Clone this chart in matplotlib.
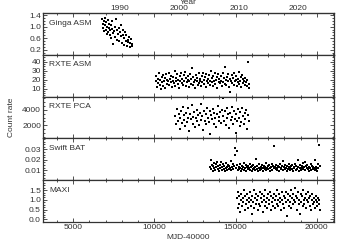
import matplotlib
matplotlib.use("Agg")
import matplotlib.pyplot as plt
from matplotlib.ticker import AutoMinorLocator, FixedLocator

plt.rcParams['font.family'] = ['Liberation Sans', 'DejaVu Sans']

# Ginga ASM
ginga_t = [6800, 6830, 6860, 6890, 6920, 6950, 6980, 7010, 7040, 7070,
           7100, 7130, 7160, 7190, 7220, 7250, 7280, 7310, 7340, 7370,
           7400, 7440, 7480, 7520, 7560, 7600, 7640, 7680, 7720, 7760,
           7800, 7840, 7880, 7920, 7960, 8000, 8040, 8080, 8120, 8160,
           8200, 8240, 8280, 8320, 8360, 8400, 8440, 8480, 8520, 8560,
           8600, 8640]
ginga_r = [1.25, 1.10, 0.95, 1.20, 0.85, 1.30, 1.05, 0.90, 1.15, 0.75,
           1.00, 1.22, 0.80, 0.95, 1.10, 0.70, 0.88, 1.05, 0.60, 0.92,
           1.18, 0.78, 0.40, 0.85, 1.00, 0.65, 1.25, 0.90, 0.55, 0.75,
           0.95, 0.50, 0.82, 0.68, 1.05, 0.45, 0.72, 0.90, 0.38, 0.60,
           0.80, 0.50, 0.70, 0.35, 0.55, 0.48, 0.65, 0.42, 0.30, 0.58,
           0.40, 0.33]

# RXTE ASM
asm_t = [10080, 10120, 10160, 10200, 10240, 10280, 10320, 10360, 10400, 10440,
         10480, 10520, 10560, 10600, 10640, 10680, 10720, 10760, 10800, 10840,
         10880, 10920, 10960, 11000, 11040, 11080, 11120, 11160, 11200, 11240,
         11280, 11320, 11360, 11400, 11440, 11480, 11520, 11560, 11600, 11640,
         11680, 11720, 11760, 11800, 11840, 11880, 11920, 11960, 12000, 12040,
         12080, 12120, 12160, 12200, 12240, 12280, 12320, 12360, 12400, 12440,
         12480, 12520, 12560, 12600, 12640, 12680, 12720, 12760, 12800, 12840,
         12880, 12920, 12960, 13000, 13040, 13080, 13120, 13160, 13200, 13240,
         13280, 13320, 13360, 13400, 13440, 13480, 13520, 13560, 13600, 13640,
         13680, 13720, 13760, 13800, 13840, 13880, 13920, 13960, 14000, 14040,
         14080, 14120, 14160, 14200, 14240, 14280, 14320, 14360, 14400, 14440,
         14480, 14520, 14560, 14600, 14640, 14680, 14720, 14760, 14800, 14840,
         14880, 14920, 14960, 15000, 15040, 15080, 15120, 15160, 15200, 15240,
         15280, 15320, 15360, 15400, 15440, 15480, 15520, 15560, 15600, 15640,
         15680, 15720, 15760, 15800, 15840]
asm_r = [18, 24, 12, 21, 16, 27, 14, 20, 9, 23,
         17, 25, 13, 19, 22, 11, 26, 15, 20, 18,
         28, 14, 21, 17, 24, 12, 19, 23, 16, 30,
         13, 22, 18, 26, 15, 20, 11, 24, 19, 27,
         16, 21, 14, 25, 18, 29, 13, 22, 17, 20,
         24, 12, 19, 26, 15, 21, 33, 14, 23, 17,
         20, 11, 25, 18, 22, 14, 27, 16, 21, 19,
         13, 24, 17, 28, 15, 20, 23, 12, 26, 18,
         21, 16, 25, 14, 19, 30, 17, 22, 13, 24,
         18, 27, 15, 20, 23, 11, 26, 17, 21, 16,
         24, 19, 13, 28, 17, 22, 15, 34, 20, 14,
         23, 18, 26, 12, 21, 6, 19, 25, 16, 22,
         14, 27, 18, 20, 24, 13, 21, 17, 29, 15,
         19, 23, 12, 25, 16, 21, 18, 14, 22, 17,
         13, 20, 40, 15, 11]

# RXTE PCA
pca_t = [11300, 11350, 11400, 11450, 11500, 11550, 11600, 11650, 11700, 11750,
         11800, 11850, 11900, 11950, 12000, 12050, 12100, 12150, 12200, 12250,
         12300, 12350, 12400, 12450, 12500, 12550, 12600, 12650, 12700, 12750,
         12800, 12850, 12900, 12950, 13000, 13050, 13100, 13150, 13200, 13250,
         13300, 13350, 13400, 13450, 13500, 13550, 13600, 13650, 13700, 13750,
         13800, 13850, 13900, 13950, 14000, 14050, 14100, 14150, 14200, 14250,
         14300, 14350, 14400, 14450, 14500, 14550, 14600, 14650, 14700, 14750,
         14800, 14850, 14900, 14950, 15000, 15050, 15100, 15150, 15200, 15250,
         15300, 15350, 15400, 15450, 15500, 15550, 15600, 15650, 15700, 15750,
         15800]
pca_r = [3200, 2100, 4100, 2600, 3500, 1500, 2900, 3800, 2300, 4400,
         2700, 3300, 1900, 3600, 2400, 4200, 3000, 1200, 3400, 2800,
         4600, 2200, 3100, 3700, 1700, 2900, 4000, 2500, 3300, 2000,
         3600, 4800, 2700, 3200, 1400, 3900, 2600, 3500, 2100, 4300,
         3000, 2400, 3800, 900, 3300, 2800, 4100, 2200, 3600, 2900,
         1800, 3400, 4500, 2600, 3100, 3700, 2300, 4000, 5600, 3200,
         2500, 3800, 2000, 4200, 2900, 3400, 1600, 3600, 2700, 4400,
         3100, 2200, 3900, 2800, 1000, 3500, 2600, 4100, 3000, 1900,
         3700, 2400, 4300, 3200, 2100, 3600, 2800, 4000, 1500, 3300,
         2600]

# Swift BAT
bat_t = [13420, 13460, 13500, 13540, 13580, 13620, 13660, 13700, 13740, 13780,
         13820, 13860, 13900, 13940, 13980, 14020, 14060, 14100, 14140, 14180,
         14220, 14260, 14300, 14340, 14380, 14420, 14460, 14500, 14540, 14580,
         14620, 14660, 14700, 14740, 14780, 14820, 14860, 14900, 14940, 14980,
         15020, 15060, 15100, 15140, 15180, 15220, 15260, 15300, 15340, 15380,
         15420, 15460, 15500, 15540, 15580, 15620, 15660, 15700, 15740, 15780,
         15820, 15860, 15900, 15940, 15980, 16020, 16060, 16100, 16140, 16180,
         16220, 16260, 16300, 16340, 16380, 16420, 16460, 16500, 16540, 16580,
         16620, 16660, 16700, 16740, 16780, 16820, 16860, 16900, 16940, 16980,
         17020, 17060, 17100, 17140, 17180, 17220, 17260, 17300, 17340, 17380,
         17420, 17460, 17500, 17540, 17580, 17620, 17660, 17700, 17740, 17780,
         17820, 17860, 17900, 17940, 17980, 18020, 18060, 18100, 18140, 18180,
         18220, 18260, 18300, 18340, 18380, 18420, 18460, 18500, 18540, 18580,
         18620, 18660, 18700, 18740, 18780, 18820, 18860, 18900, 18940, 18980,
         19020, 19060, 19100, 19140, 19180, 19220, 19260, 19300, 19340, 19380,
         19420, 19460, 19500, 19540, 19580, 19620, 19660, 19700, 19740, 19780,
         19820, 19860, 19900, 19940, 19980, 20020, 20060, 20100, 20140, 20180]
bat_r = [0.013, 0.020, 0.011, 0.015, 0.009, 0.014, 0.017, 0.012, 0.010, 0.016,
         0.013, 0.018, 0.011, 0.014, 0.009, 0.015, 0.012, 0.018, 0.010, 0.013,
         0.016, 0.011, 0.014, 0.009, 0.012, 0.017, 0.010, 0.013, 0.015, 0.011,
         0.014, 0.012, 0.019, 0.010, 0.013, 0.016, 0.011, 0.014, 0.025, 0.031,
         0.012, 0.015, 0.028, 0.010, 0.013, 0.011, 0.016, 0.012, 0.009, 0.014,
         0.011, 0.013, 0.017, 0.010, 0.012, 0.015, 0.009, 0.013, 0.011, 0.014,
         0.012, 0.010, 0.016, 0.013, 0.009, 0.014, 0.011, 0.015, 0.012, 0.010,
         0.013, 0.021, 0.011, 0.014, 0.009, 0.012, 0.016, 0.010, 0.013, 0.011,
         0.015, 0.012, 0.009, 0.014, 0.011, 0.013, 0.017, 0.010, 0.012, 0.014,
         0.011, 0.015, 0.012, 0.009, 0.013, 0.016, 0.010, 0.014, 0.012, 0.033,
         0.013, 0.011, 0.015, 0.010, 0.012, 0.014, 0.009, 0.013, 0.016, 0.011,
         0.012, 0.014, 0.019, 0.010, 0.013, 0.011, 0.015, 0.012, 0.009, 0.014,
         0.011, 0.013, 0.016, 0.010, 0.012, 0.014, 0.011, 0.015, 0.009, 0.013,
         0.012, 0.016, 0.010, 0.014, 0.011, 0.020, 0.013, 0.009, 0.015, 0.012,
         0.010, 0.014, 0.012, 0.017, 0.011, 0.013, 0.018, 0.010, 0.014, 0.012,
         0.015, 0.011, 0.013, 0.009, 0.012, 0.016, 0.010, 0.014, 0.011, 0.013,
         0.012, 0.010, 0.020, 0.011, 0.013, 0.009, 0.012, 0.016, 0.034, 0.014]

# MAXI
maxi_t = [15080, 15120, 15160, 15200, 15240, 15280, 15320, 15360, 15400, 15440,
          15480, 15520, 15560, 15600, 15640, 15680, 15720, 15760, 15800, 15840,
          15880, 15920, 15960, 16000, 16040, 16080, 16120, 16160, 16200, 16240,
          16280, 16320, 16360, 16400, 16440, 16480, 16520, 16560, 16600, 16640,
          16680, 16720, 16760, 16800, 16840, 16880, 16920, 16960, 17000, 17040,
          17080, 17120, 17160, 17200, 17240, 17280, 17320, 17360, 17400, 17440,
          17480, 17520, 17560, 17600, 17640, 17680, 17720, 17760, 17800, 17840,
          17880, 17920, 17960, 18000, 18040, 18080, 18120, 18160, 18200, 18240,
          18280, 18320, 18360, 18400, 18440, 18480, 18520, 18560, 18600, 18640,
          18680, 18720, 18760, 18800, 18840, 18880, 18920, 18960, 19000, 19040,
          19080, 19120, 19160, 19200, 19240, 19280, 19320, 19360, 19400, 19440,
          19480, 19520, 19560, 19600, 19640, 19680, 19720, 19760, 19800, 19840,
          19880, 19920, 19960, 20000, 20040, 20080, 20120, 20160, 20200]
maxi_r = [1.1, 0.6, 1.4, 0.8, 1.2, 0.4, 1.0, 1.3, 0.7, 1.1,
          0.9, 1.5, 0.5, 1.2, 0.8, 1.0, 1.3, 0.6, 1.1, 0.9,
          1.4, 0.7, 1.0, 0.3, 1.2, 0.9, 1.5, 0.6, 1.1, 0.8,
          1.3, 1.0, 0.5, 1.2, 0.8, 1.4, 0.7, 1.1, 0.9, 1.3,
          0.4, 1.0, 1.2, 0.7, 1.5, 0.9, 1.1, 0.6, 1.3, 0.8,
          1.0, 1.4, 0.5, 1.2, 0.9, 1.1, 0.7, 1.3, 1.0, 0.6,
          1.2, 0.8, 1.5, 1.0, 0.7, 1.3, 0.9, 1.1, 0.5, 1.4,
          1.0, 0.8, 1.2, 0.6, 1.1, 1.4, 0.9, 0.2, 1.3, 1.0,
          0.7, 1.2, 0.9, 1.5, 0.6, 1.1, 1.3, 0.8, 1.0, 1.6,
          0.9, 1.2, 0.5, 1.1, 1.4, 0.8, 1.0, 0.3, 1.3, 0.9,
          1.2, 0.7, 1.5, 1.0, 0.8, 1.1, 1.3, 0.6, 1.0, 1.4,
          0.9, 1.1, 0.7, 1.2, 0.5, 1.0, 1.3, 0.8, 1.1, 0.9,
          0.6, 1.0, 1.2, 0.7, 0.9, 1.1, 0.8, 1.0, 0.5]

panels = [
    ("Ginga ASM", ginga_t, ginga_r, (0.03, 1.47), [0.2, 0.6, 1.0, 1.4], "%.1f"),
    ("RXTE ASM", asm_t, asm_r, (1, 48), [10, 20, 30, 40], "%d"),
    ("RXTE PCA", pca_t, pca_r, (270, 5730), [2000, 4000], "%d"),
    ("Swift BAT", bat_t, bat_r, (0.0005, 0.0405), [0.01, 0.02, 0.03], "%.2f"),
    ("MAXI", maxi_t, maxi_r, (-0.13, 2.01), [0.0, 0.5, 1.0, 1.5], "%.1f"),
]

fig, axes = plt.subplots(5, 1, sharex=True, figsize=(3.59, 2.50), dpi=100)
fig.subplots_adjust(left=0.12, right=0.93, top=0.948, bottom=0.112, hspace=0)

for ax, (name, t, r, ylim, yt, fmt) in zip(axes, panels):
    ax.plot(t, r, 's', color='black', ms=2.0, mew=0)
    ax.set_ylim(*ylim)
    ax.yaxis.set_major_locator(FixedLocator(yt))
    ax.set_yticklabels([fmt % v for v in yt])
    ax.yaxis.set_minor_locator(AutoMinorLocator(4))
    ax.xaxis.set_minor_locator(AutoMinorLocator(5))
    ax.tick_params(which='both', direction='in', top=True, right=True,
                   labelsize=6, pad=1.5, colors='#333333', width=0.6)
    ax.tick_params(which='major', length=3)
    ax.tick_params(which='minor', length=1.5)
    for s in ax.spines.values():
        s.set_linewidth(0.9)
        s.set_color('#333333')
    ax.text(0.022, 0.76, name, transform=ax.transAxes, fontsize=6,
            va='center', ha='left', color='#333333')

axes[-1].set_xlim(3150, 21050)
axes[-1].set_xticks([5000, 10000, 15000, 20000])
axes[-1].set_xlabel("MJD-40000", fontsize=6, labelpad=2, color='#333333')


def mjd_to_year(t):
    return 2000 + (t - 11544.5) / 365.25


def year_to_mjd(y):
    return (y - 2000) * 365.25 + 11544.5


top = axes[0].secondary_xaxis('top', functions=(mjd_to_year, year_to_mjd))
top.set_xticks([1990, 2000, 2010, 2020])
top.tick_params(labelsize=6, length=0, pad=1, colors='#333333')

fig.text(0.525, 0.99, "Year", fontsize=6, va='center', ha='center',
         color='#333333')
fig.text(0.033, 0.53, "Count rate", rotation=90, fontsize=6,
         va='center', ha='center', color='#333333')

fig.savefig("out.png", dpi=100)
